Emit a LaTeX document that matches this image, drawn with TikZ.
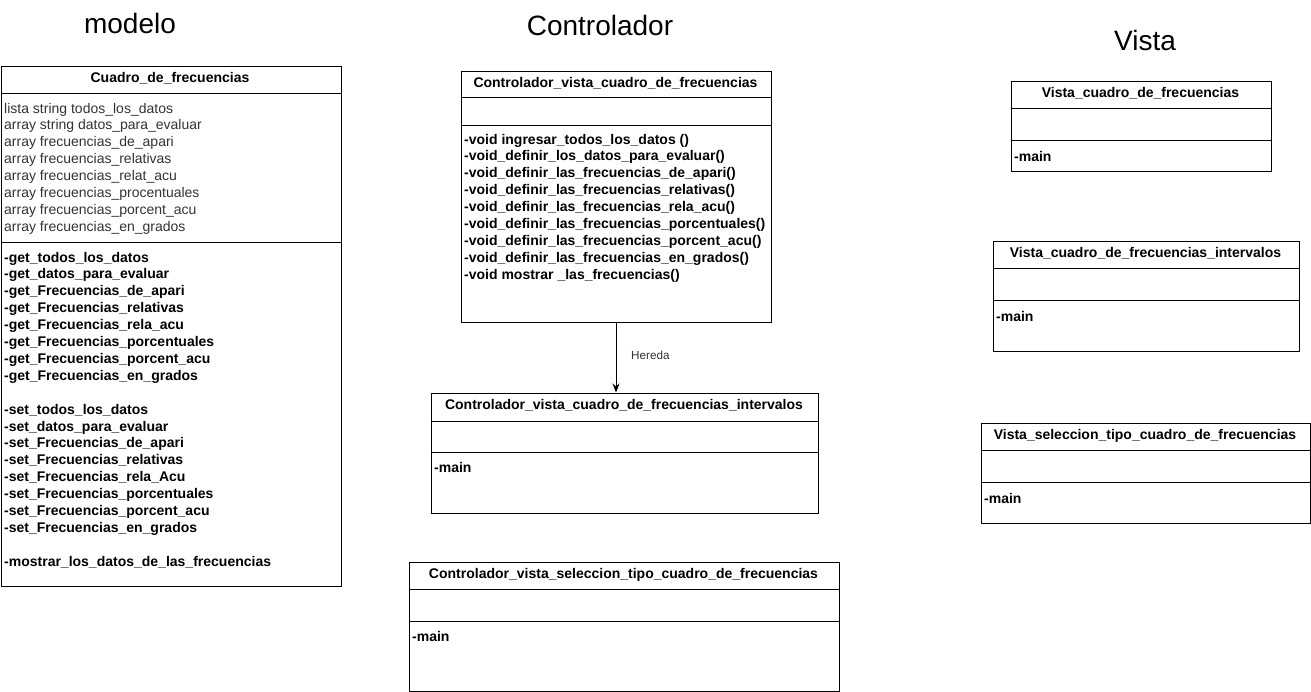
\documentclass[tikz,border=0pt]{standalone}
\usepackage{fontspec}
\setmainfont{Liberation Sans}
\usetikzlibrary{arrows.meta}
\tikzset{
  box/.style={draw=black, line width=1pt, inner sep=0pt, anchor=north west},
  sepline/.style={draw=black, line width=1pt},
  head/.style={font=\fontsize{14}{16.9}\selectfont\bfseries, anchor=base, inner sep=0pt},
  attr/.style={font=\fontsize{14}{16.9}\selectfont, text=black!80, align=left, anchor=base west, inner sep=0pt},
  meth/.style={font=\fontsize{14}{16.9}\selectfont\bfseries, align=left, anchor=base west, inner sep=0pt},
  title/.style={font=\fontsize{28}{32}\selectfont, anchor=base, inner sep=0pt},
  conn/.style={draw=black, line width=1pt, -{Stealth[length=9pt,width=7pt]}},
  lbl/.style={font=\fontsize{11.7}{14}\selectfont, text=black!80, anchor=base west, inner sep=0pt}
}
\begin{document}
\begin{tikzpicture}[x=1pt,y=-1pt]
\useasboundingbox[fill=white] (0,0) rectangle (1311,691);

% titles
\node[title] (tmodelo) at (130,33) {modelo};
\node[title] (tcontrol) at (600,35) {Controlador};
\node[title] (tvista) at (1145,50) {Vista};

% Cuadro_de_frecuencias (multi-line nodes are placed by the baseline of their last line)
\node[box, minimum width=340pt, minimum height=520pt] (cuadro) at (0.5,65.5) {};
\draw[sepline] (0.5,93.5) -- (340.5,93.5);
\draw[sepline] (0.5,242.5) -- (340.5,242.5);
\node[head] (cuadroh) at (170,82) {Cuadro\_de\_frecuencias};
\node[attr] (cuadroa) at (4,231.3) {lista string todos\_los\_datos\\
array string datos\_para\_evaluar\\
array frecuencias\_de\_apari\\
array frecuencias\_relativas\\
array frecuencias\_relat\_acu\\
array frecuencias\_procentuales\\
array frecuencias\_porcent\_acu\\
array frecuencias\_en\_grados};
\node[meth] (cuadrom) at (4,566.2) {-get\_todos\_los\_datos\\
-get\_datos\_para\_evaluar\\
-get\_Frecuencias\_de\_apari\\
-get\_Frecuencias\_relativas\\
-get\_Frecuencias\_rela\_acu\\
-get\_Frecuencias\_porcentuales\\
-get\_Frecuencias\_porcent\_acu\\
-get\_Frecuencias\_en\_grados\\[16.9pt]
-set\_todos\_los\_datos\\
-set\_datos\_para\_evaluar\\
-set\_Frecuencias\_de\_apari\\
-set\_Frecuencias\_relativas\\
-set\_Frecuencias\_rela\_Acu\\
-set\_Frecuencias\_porcentuales\\
-set\_Frecuencias\_porcent\_acu\\
-set\_Frecuencias\_en\_grados\\[16.9pt]
-mostrar\_los\_datos\_de\_las\_frecuencias};

% Controlador_vista_cuadro_de_frecuencias
\node[box, minimum width=310pt, minimum height=251pt] (ctrl) at (460.5,70.5) {};
\draw[sepline] (460.5,97.5) -- (770.5,97.5);
\draw[sepline] (460.5,125.5) -- (770.5,125.5);
\node[head] (ctrlh) at (615.5,87) {Controlador\_vista\_cuadro\_de\_frecuencias};
\node[meth] (ctrlm) at (464,279.2) {-void ingresar\_todos\_los\_datos ()\\
-void\_definir\_los\_datos\_para\_evaluar()\\
-void\_definir\_las\_frecuencias\_de\_apari()\\
-void\_definir\_las\_frecuencias\_relativas()\\
-void\_definir\_las\_frecuencias\_rela\_acu()\\
-void\_definir\_las\_frecuencias\_porcentuales()\\
-void\_definir\_las\_frecuencias\_porcent\_acu()\\
-void\_definir\_las\_frecuencias\_en\_grados()\\
-void mostrar \_las\_frecuencias()};

% Controlador_vista_cuadro_de_frecuencias_intervalos
\node[box, minimum width=387pt, minimum height=120pt] (ctrlint) at (430.5,392.5) {};
\draw[sepline] (430.5,421.5) -- (817.5,421.5);
\draw[sepline] (430.5,452.5) -- (817.5,452.5);
\node[head] (ctrlinth) at (624,409) {Controlador\_vista\_cuadro\_de\_frecuencias\_intervalos};
\node[meth] (ctrlintm) at (434,472) {-main};

% Controlador_vista_seleccion_tipo_cuadro_de_frecuencias
\node[box, minimum width=430pt, minimum height=129pt] (ctrlsel) at (408.5,561.5) {};
\draw[sepline] (408.5,589.5) -- (838.5,589.5);
\draw[sepline] (408.5,621.5) -- (838.5,621.5);
\node[head] (ctrlselh) at (623.5,578) {Controlador\_vista\_seleccion\_tipo\_cuadro\_de\_frecuencias};
\node[meth] (ctrlselm) at (412,641) {-main};

% Vista_cuadro_de_frecuencias
\node[box, minimum width=260pt, minimum height=90pt] (vista) at (1010.5,80.5) {};
\draw[sepline] (1010.5,108.5) -- (1270.5,108.5);
\draw[sepline] (1010.5,140.5) -- (1270.5,140.5);
\node[head] (vistah) at (1140.5,97) {Vista\_cuadro\_de\_frecuencias};
\node[meth] (vistam) at (1014,161) {-main};

% Vista_cuadro_de_frecuencias_intervalos
\node[box, minimum width=306pt, minimum height=110pt] (vistaint) at (992.5,240.5) {};
\draw[sepline] (992.5,268.5) -- (1298.5,268.5);
\draw[sepline] (992.5,300.5) -- (1298.5,300.5);
\node[head] (vistainth) at (1145.5,257) {Vista\_cuadro\_de\_frecuencias\_intervalos};
\node[meth] (vistaintm) at (996,321) {-main};

% Vista_seleccion_tipo_cuadro_de_frecuencias
\node[box, minimum width=329pt, minimum height=100pt] (vistasel) at (980.5,422.5) {};
\draw[sepline] (980.5,450.5) -- (1309.5,450.5);
\draw[sepline] (980.5,482.5) -- (1309.5,482.5);
\node[head] (vistaselh) at (1145,439) {Vista\_seleccion\_tipo\_cuadro\_de\_frecuencias};
\node[meth] (vistaselm) at (984,503) {-main};

% inheritance
\draw[conn] (ctrl.south) -- (ctrl.south |- ctrlint.north);
\node[lbl] (hereda) at (631,359) {Hereda};
\end{tikzpicture}
\end{document}
